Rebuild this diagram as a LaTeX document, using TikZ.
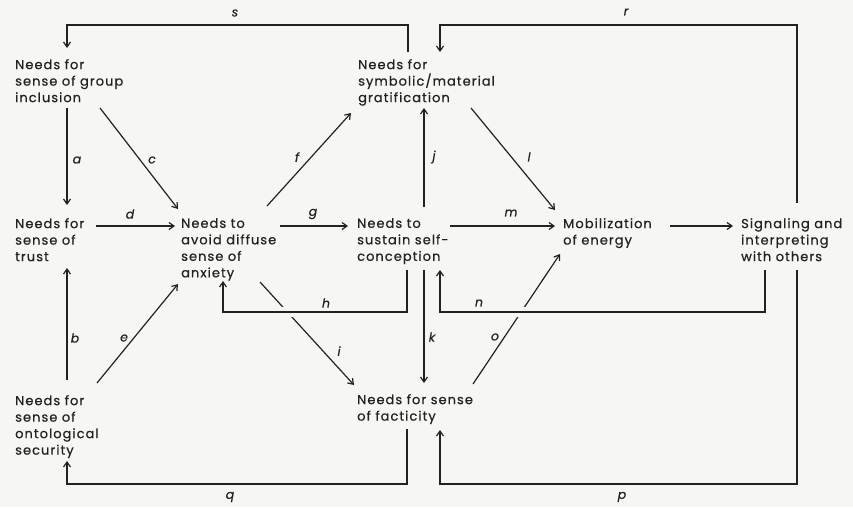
\documentclass[tikz,border=0pt]{standalone}
\usepackage{fontspec}
\setmainfont{Poppins}[LetterSpace=8,FakeBold=0.6]
\usetikzlibrary{arrows.meta,calc}
\definecolor{ink}{HTML}{222222}
\definecolor{paper}{HTML}{F6F6F4}
\tikzset{
  box/.style={anchor=north west, inner sep=0pt, align=left, text=ink,
              font=\fontsize{13}{16.5}\selectfont},
  link/.style={line width=1.2pt, draw=ink},
  arr/.style={link, -{Straight Barb[length=5pt,width=7pt,line width=1.2pt]}},
  tag/.style={text=ink, inner sep=0pt, font=\fontsize{12.5}{12.5}\selectfont\itshape},
  halo/.style={preaction={draw=paper, line width=10pt}}
}
\begin{document}
\begin{tikzpicture}[x=1pt,y=-1pt]
\fill[paper] (0,0) rectangle (853,507);
\useasboundingbox (0,0) rectangle (853,507);

% needs and processes
\node[box] (grp)   at (15,59)   {Needs for\\sense of group\\inclusion};
\node[box] (grat)  at (358,59)  {Needs for\\symbolic/material\\gratification};
\node[box] (trust) at (15,218)  {Needs for\\sense of\\trust};
\node[box] (anx)   at (181,218) {Needs to\\avoid diffuse\\sense of\\anxiety};
\node[box] (self)  at (357,218) {Needs to\\sustain self-\\conception};
\node[box] (mob)   at (563,218) {Mobilization\\of energy};
\node[box] (sig)   at (741,218) {Signaling and\\interpreting\\with others};
\node[box] (onto)  at (15,395)  {Needs for\\sense of\\ontological\\security};
\node[box] (fact)  at (357,394) {Needs for sense\\of facticity};

% straight links
\draw[arr] ($(grp.north west)+(52,49)$)   -- ($(trust.north west)+(52,-13)$);
\draw[arr] ($(grp.north west)+(85,49)$)   -- ($(anx.north west)+(-3,-9)$);
\draw[arr] ($(trust.north west)+(81,8)$)  -- ($(anx.north west)+(-6,8)$);
\draw[arr] ($(onto.north west)+(52,-15)$) -- ($(trust.north west)+(52,50)$);
\draw[arr] ($(onto.north west)+(82,-12)$) -- ($(anx.north west)+(-3,66)$);
\draw[arr] ($(anx.north west)+(86,-12)$)  -- ($(grat.north west)+(-7,54)$);
\draw[arr] ($(anx.north west)+(99,8)$)    -- ($(self.north west)+(-9,8)$);
\draw[arr] ($(anx.north west)+(79,64)$)   -- ($(fact.north west)+(-3,-9)$);
\draw[arr] ($(self.north west)+(67,-11)$) -- ($(grat.north west)+(66,49)$);
\draw[arr] ($(self.north west)+(67,52)$)  -- ($(fact.north west)+(67,-11)$);
\draw[arr] ($(self.north west)+(93,8)$)   -- ($(mob.north west)+(-8,8)$);
\draw[arr] ($(grat.north west)+(113,49)$) -- ($(mob.north west)+(-8,-8)$);
\draw[arr] ($(fact.north west)+(116,-10)$) -- ($(mob.north west)+(-3,36)$);
\draw[arr] ($(mob.north west)+(107,8)$)   -- ($(sig.north west)+(-8,8)$);

% feedback loops (the lower ones break the diagonals they cross)
\draw[arr,halo] ($(self.north west)+(50,52)$) -- ++(0,42) -| ($(anx.north west)+(42,63)$);
\draw[arr,halo] ($(sig.north west)+(24,52)$)  -- ++(0,42) -| ($(self.north west)+(83,52)$);
\draw[arr] ($(grat.north west)+(50,-7)$) -- ++(0,-27)  -| ($(grp.north west)+(52,-11)$);
\draw[arr] ($(sig.north west)+(56,-15)$) -- ++(0,-178) -| ($(grat.north west)+(82,-7)$);
\draw[arr] ($(sig.north west)+(56,52)$)  -- ++(0,214)  -| ($(fact.north west)+(83,36)$);
\draw[arr] ($(fact.north west)+(50,35)$) -- ++(0,55)   -| ($(onto.north west)+(52,66)$);

% link letters
\node[tag] (ls) at (235,13)  {s};
\node[tag] (lr) at (626,12)  {r};
\node[tag] (la) at (77,160)  {a};
\node[tag] (lc) at (152,160) {c};
\node[tag] (lf) at (297,157) {f};
\node[tag] (lj) at (434,157) {j};
\node[tag] (ll) at (529,157) {l};
\node[tag] (ld) at (130,214) {d};
\node[tag] (lg) at (313,214) {g};
\node[tag] (lm) at (511,213) {m};
\node[tag] (lh) at (326,303) {h};
\node[tag] (ln) at (479,303) {n};
\node[tag] (lb) at (75,338)  {b};
\node[tag] (le) at (124,338) {e};
\node[tag] (lk) at (432,337) {k};
\node[tag] (lo) at (495,337) {o};
\node[tag] (li) at (339,351) {i};
\node[tag] (lq) at (230,497) {q};
\node[tag] (lp) at (622,497) {p};
\end{tikzpicture}
\end{document}
